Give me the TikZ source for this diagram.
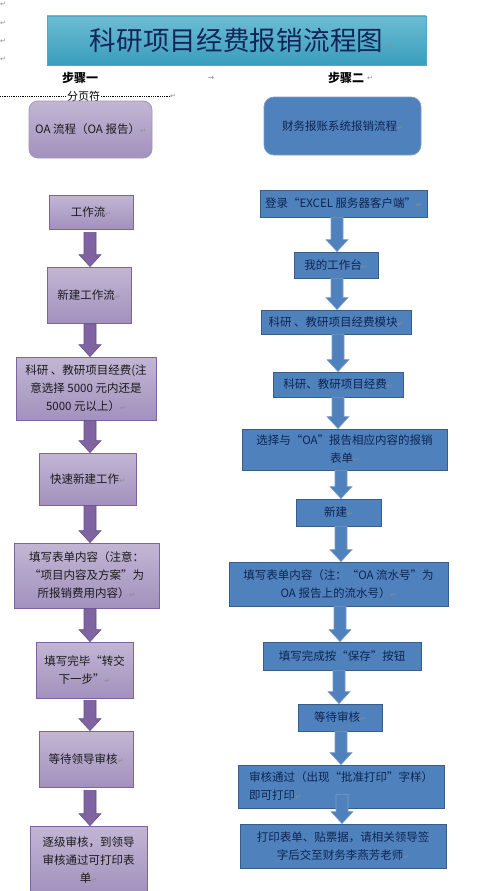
\documentclass[tikz,border=0pt]{standalone}
\usepackage{fontspec}
\setmainfont{Noto Sans CJK SC}
\newfontfamily\dvfont{DejaVu Sans}
\usetikzlibrary{calc}
\definecolor{lbord}{HTML}{7E63A0}
\definecolor{ltop}{HTML}{C2B6D4}
\definecolor{lbot}{HTML}{A291BD}
\definecolor{ltext}{HTML}{1A1A1A}
\definecolor{rbord}{HTML}{385D8A}
\definecolor{rfill}{HTML}{4F81BD}
\definecolor{rtext}{HTML}{0E2550}
\definecolor{lafill}{HTML}{8064A2}
\definecolor{laedge}{HTML}{6A4F8C}
\definecolor{raedge}{HTML}{7D9CC8}
\definecolor{pmgray}{HTML}{8C8C8C}
\definecolor{ttop}{HTML}{6CBDD3}
\definecolor{tbot}{HTML}{399DBD}
\definecolor{tbord}{HTML}{4AA8C6}
\definecolor{ttext}{HTML}{14245A}
\newcommand\pmark{{\dvfont\color{pmgray}\fontsize{7}{7}\selectfont ↵}}
\newcommand\tch[1]{\makebox[26.7pt]{#1}}
% fat arrow: [start offset]{style}{from}{to}{x}
\newcommand\farr[5][0]{%
  \path[#2] let \p1=(#3.south), \p2=(#4.north) in
    (#5pt-6pt,\y1+#1pt) -- (#5pt+6pt,\y1+#1pt) -- (#5pt+6pt,\y2+12pt) --
    (#5pt+11pt,\y2+12pt) -- (#5pt,\y2) -- (#5pt-11pt,\y2+12pt) --
    (#5pt-6pt,\y2+12pt) -- cycle;}
\begin{document}
\begin{tikzpicture}[x=1pt,y=-1pt,
  lbox/.style={draw=lbord, line width=0.8pt, top color=ltop, bottom color=lbot,
    inner sep=2pt, align=center, text=ltext, font=\fontsize{11.5}{18}\selectfont},
  rbox/.style={draw=rbord, line width=0.8pt, fill=rfill,
    inner sep=2pt, align=center, text=rtext, font=\fontsize{11.5}{18}\selectfont},
  larr/.style={fill=lafill, draw=laedge, line width=0.6pt},
  rarr/.style={fill=rfill, draw=raedge, line width=0.6pt},
  pmk/.style={inner sep=0pt, text=pmgray, font=\dvfont\fontsize{7}{7}\selectfont},
  lbl/.style={inner sep=0pt, font=\fontsize{12}{14}\selectfont\bfseries}]
\useasboundingbox (0,0) rectangle (481,891);
\fill[white] (0,0) rectangle (481,891);

% paragraph marks at left margin
\node[pmk] (m1) at (3,4) {↵};
\node[pmk] (m2) at (3,23) {↵};
\node[pmk] (m3) at (3,41) {↵};
\node[pmk] (m4) at (3,59) {↵};

% title
\node[draw=tbord, line width=0.6pt, top color=ttop, bottom color=tbot,
  minimum width=379pt, minimum height=49pt, inner sep=0pt] (title) at (236.5,40.5) {};
\node[inner sep=0pt, text=ttext, font=\fontsize{26.5}{28}\selectfont] (ttl) at (236.5,40.5)
  {\tch{科}\tch{研}\tch{项}\tch{目}\tch{经}\tch{费}\tch{报}\tch{销}\tch{流}\tch{程}\tch{图}};
\node[pmk] (tpm) at (390,46) {↵};

% step labels
\node[lbl] (s1) at (80,78) {步骤一};
\node[pmk, font=\dvfont\fontsize{8}{8}\selectfont] (tab) at (211,78) {→};
\node[lbl] (s2) at (346,78) {步骤二};
\node[pmk] (s2pm) at (370,78) {↵};

% page break
\draw[line width=0.6pt, dash pattern=on 0.7pt off 1.1pt] (0,96) -- (170,96);
\node[fill=white, inner sep=1pt, font=\fontsize{11}{12}\selectfont] (pb) at (83.5,96) {分页符};
\node[pmk] (pbpm) at (173,96) {↵};

% left column
\node[lbox, draw=lbord!70, rounded corners=9pt, minimum width=123pt, minimum height=57pt] (L0) at (90.5,129.5) {OA 流程（OA 报告）\pmark};
\node[lbox, minimum width=84pt, minimum height=34pt] (L1) at (91,212) {工作流\pmark};
\node[lbox, minimum width=84pt, minimum height=56pt] (L2) at (89,295) {新建工作流\pmark};
\node[lbox, minimum width=140pt, minimum height=63pt] (L3) at (86,388.5) {科研 、教研项目经费(注\\意选择 5000 元内还是\\5000 元以上）\pmark};
\node[lbox, minimum width=97pt, minimum height=52pt] (L4) at (87.5,479) {快速新建工作\pmark};
\node[lbox, minimum width=145pt, minimum height=65pt] (L5) at (86.5,575.5) {填写表单内容（注意：\\“项目内容及方案”为\\所报销费用内容）\pmark};
\node[lbox, minimum width=97pt, minimum height=56pt] (L6) at (84.5,670) {填写完毕“转交\\下一步”\pmark};
\node[lbox, minimum width=94pt, minimum height=56pt] (L7) at (86,759) {等待领导审核\pmark};
\node[lbox, minimum width=117pt, minimum height=68pt] (L8) at (88.5,860) {逐级审核，到领导\\审核通过可打印表\\单\pmark};

\farr[-3]{larr}{L1}{L2}{90}
\farr{larr}{L2}{L3}{90}
\farr{larr}{L3}{L4}{90}
\farr{larr}{L4}{L5}{90}
\farr{larr}{L5}{L6}{90}
\farr[-2]{larr}{L6}{L7}{90}
\farr[-3]{larr}{L7}{L8}{90}

% right column
\node[rbox, draw=raedge, rounded corners=10pt, minimum width=157pt, minimum height=58pt] (R0) at (342.5,126) {财务报账系统报销流程\pmark};
\node[rbox, minimum width=167pt, minimum height=27pt] (R1) at (343.5,203.5) {登录“EXCEL 服务器客户端”\pmark};
\node[rbox, minimum width=84pt, minimum height=26pt] (R2) at (336,265) {我的工作台\pmark};
\node[rbox, minimum width=150pt, minimum height=24pt] (R3) at (336,322) {科研 、教研项目经费模块\pmark};
\node[rbox, minimum width=130pt, minimum height=25pt] (R4) at (338,384.5) {科研、教研项目经费\pmark};
\node[rbox, minimum width=205pt, minimum height=41pt] (R5) at (344.5,449.5) {选择与“OA”报告相应内容的报销\\表单\pmark};
\node[rbox, minimum width=85pt, minimum height=27pt] (R6) at (338.5,512.5) {新建\pmark};
\node[rbox, minimum width=219pt, minimum height=44pt] (R7) at (338.5,584) {填写表单内容（注：“OA 流水号”为\\OA 报告上的流水号）\pmark};
\node[rbox, minimum width=158pt, minimum height=28pt] (R8) at (342,656) {填写完成按“保存”按钮};
\node[rbox, minimum width=84pt, minimum height=27pt] (R9) at (340,717.5) {等待审核\pmark};
\node[rbox, align=left, minimum width=206pt, minimum height=43pt] (R10) at (341,786.5) {审核通过（出现“批准打印”字样）\\即可打印\pmark};
\node[rbox, minimum width=206pt, minimum height=44pt] (R11) at (343,846) {打印表单、贴票据，请相关领导签\\字后交至财务李燕芳老师\pmark};

\farr{rarr}{R1}{R2}{337}
\farr{rarr}{R2}{R3}{337}
\farr{rarr}{R3}{R4}{338}
\farr{rarr}{R4}{R5}{338}
\farr{rarr}{R5}{R6}{341}
\farr{rarr}{R6}{R7}{341}
\farr{rarr}{R7}{R8}{340}
\farr{rarr}{R8}{R9}{339}
\farr{rarr}{R9}{R10}{341}
\farr[14]{rarr}{R10}{R11}{342}
\end{tikzpicture}
\end{document}
